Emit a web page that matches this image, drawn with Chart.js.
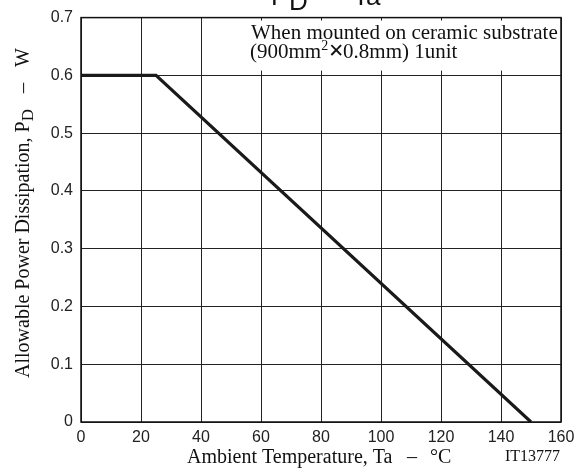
<!DOCTYPE html>
<html><head><meta charset="utf-8">
<script src="https://cdn.jsdelivr.net/npm/chart.js@4/dist/chart.umd.min.js"></script>
<style>html,body{margin:0;padding:0;background:#fff}#wrap{width:584px;height:473px}</style>
</head><body><div id="wrap"><canvas id="c" width="584" height="473"></canvas></div>
<script>
const xTicks = [0, 20, 40, 60, 80, 100, 120, 140, 160];
const yTicks = [0, 0.1, 0.2, 0.3, 0.4, 0.5, 0.6, 0.7];
const tempC = [0, 25, 150];
const powerW = [0.6, 0.6, 0];

const serif = '"Liberation Serif","Times New Roman",serif';
const sans = '"Liberation Sans",Arial,sans-serif';

const deco = {
  id: 'deco',
  beforeDatasetsDraw(chart) {
    const ctx = chart.ctx, a = chart.chartArea;
    ctx.save();
    ctx.fillStyle = '#fff';
    ctx.fillRect(242, a.top + 3, a.right - 242 - 1, 50);
    ctx.fillStyle = '#111';
    ctx.font = '21px ' + serif;
    ctx.textBaseline = 'alphabetic';
    ctx.fillText('When mounted on ceramic substrate', 251, 39);
    let x = 250;
    ctx.fillText('(900mm', x, 58); x += ctx.measureText('(900mm').width;
    ctx.font = '14px ' + serif;
    ctx.fillText('2', x, 50); x += ctx.measureText('2').width;
    ctx.font = '19px "DejaVu Sans",sans-serif';
    ctx.fillText('\u2715', x, 57); x += ctx.measureText('\u2715').width - 1;
    ctx.font = '21px ' + serif;
    ctx.fillText('0.8mm) 1unit', x, 58);
    ctx.restore();
  },
  afterDraw(chart) {
    const ctx = chart.ctx, a = chart.chartArea;
    ctx.save();
    ctx.strokeStyle = '#111'; ctx.lineWidth = 1.5;
    ctx.strokeRect(a.left, a.top, a.right - a.left, a.bottom - a.top);
    ctx.fillStyle = '#111';
    // title
    ctx.font = '26px ' + sans;
    ctx.fillText('P', 271, 5);
    ctx.fillText('D', 289, 10);
    ctx.fillText('\u2013', 322, 5);
    ctx.fillText('Ta', 353, 5);
    // x title
    ctx.font = '20px ' + serif;
    ctx.textAlign = 'left';
    ctx.fillText('Ambient Temperature, Ta', 187, 463);
    ctx.fillText('\u2013', 407, 463);
    ctx.fillText('\u00B0C', 430, 463);
    ctx.font = '16px ' + serif;
    ctx.fillText('IT13777', 505, 461);
    // y title
    ctx.translate(29, 378);
    ctx.rotate(-Math.PI / 2);
    ctx.font = '20px ' + serif;
    const s1 = 'Allowable Power Dissipation, P';
    ctx.fillText(s1, 0, 0);
    let y = ctx.measureText(s1).width;
    ctx.font = '17px ' + serif;
    ctx.fillText('D', y, 4);
    ctx.font = '20px ' + serif;
    ctx.fillText('\u2013', 285, 0);
    ctx.fillText('W', 311, 0);
    ctx.restore();
  }
};

new Chart(document.getElementById('c'), {
  type: 'scatter',
  data: {
    datasets: [{
      data: tempC.map((t, i) => ({x: t, y: powerW[i]})),
      showLine: true,
      borderColor: '#1a1a1a',
      borderWidth: 3.2,
      pointRadius: 0,
      tension: 0
    }]
  },
  options: {
    responsive: false,
    animation: false,
    devicePixelRatio: 1,
    layout: {padding: {left: 0, right: 23, top: 14, bottom: 0}},
    plugins: {legend: {display: false}, tooltip: {enabled: false}},
    scales: {
      x: {
        type: 'linear', min: 0, max: 160,
        afterBuildTicks: s => { s.ticks = xTicks.map(v => ({value: v})); },
        afterFit: s => { s.height = 51; },
        grid: {color: '#222', lineWidth: 1, drawTicks: false},
        border: {display: false},
        ticks: {font: {family: sans, size: 16}, color: '#222', padding: 6}
      },
      y: {
        type: 'linear', min: 0, max: 0.7,
        afterBuildTicks: s => { s.ticks = yTicks.map(v => ({value: v})); },
        afterFit: s => { s.width = 81; },
        grid: {color: '#222', lineWidth: 1, drawTicks: false},
        border: {display: false},
        ticks: {font: {family: sans, size: 16}, color: '#222', padding: 8,
          callback: v => v === 0 ? '0' : v.toFixed(1)}
      }
    }
  },
  plugins: [deco]
});
</script></body></html>
